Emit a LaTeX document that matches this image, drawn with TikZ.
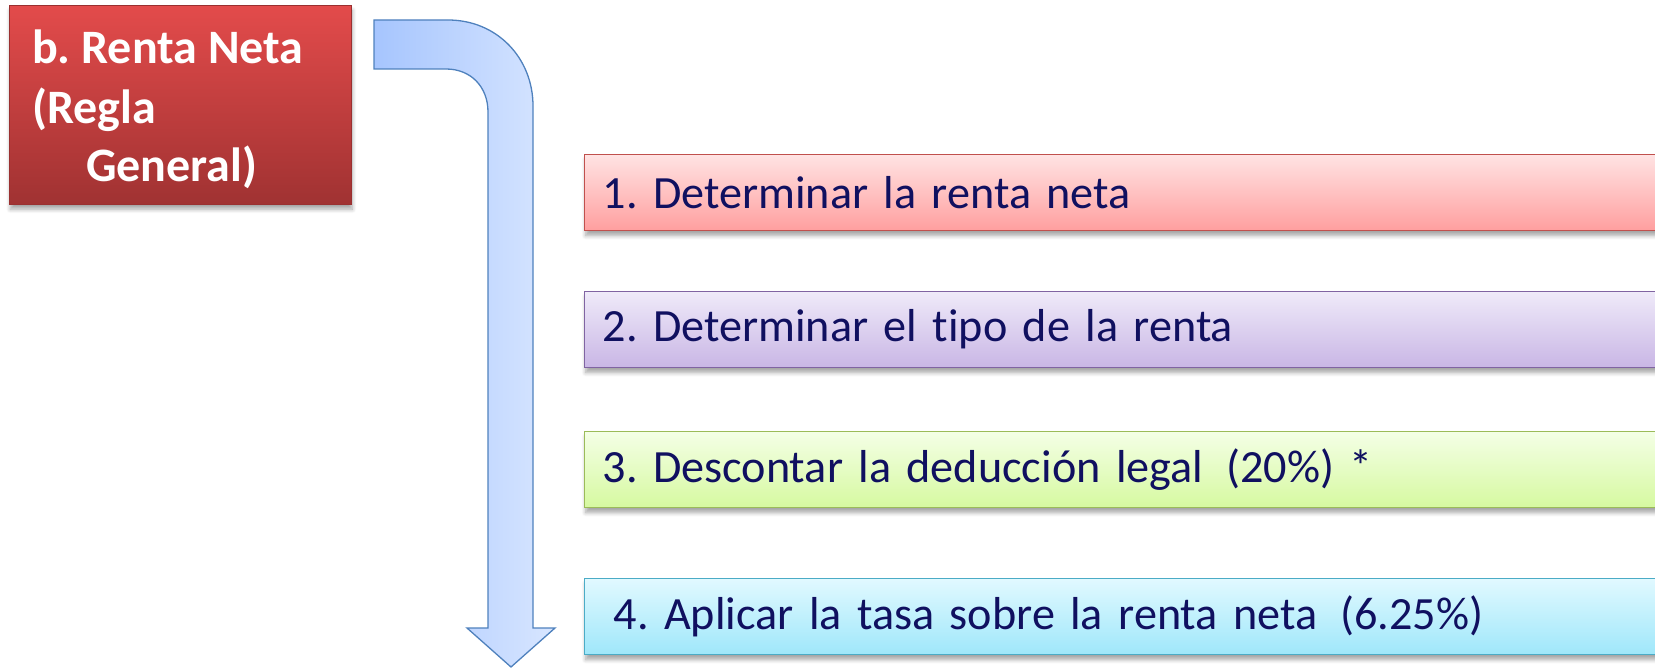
\documentclass[tikz,border=0pt]{standalone}
\usepackage{fontspec}
\setmainfont{Carlito}[Ligatures=NoCommon]
\usetikzlibrary{shadows.blur}
\definecolor{navytext}{RGB}{16,16,96}
\definecolor{redtop}{HTML}{E34B4B}
\definecolor{redbot}{HTML}{A03232}
\definecolor{redline}{HTML}{9A3030}
\definecolor{arrL}{HTML}{A6C5FE}
\definecolor{arrR}{HTML}{D8E6FF}
\definecolor{arrline}{HTML}{4F81BD}
\definecolor{oneT}{HTML}{FFE3E3}\definecolor{oneB}{HTML}{FF9F9F}\definecolor{oneL}{HTML}{C0504D}
\definecolor{twoT}{HTML}{EFEAF9}\definecolor{twoB}{HTML}{C9B6E5}\definecolor{twoL}{HTML}{8064A2}
\definecolor{thrT}{HTML}{F4FFE6}\definecolor{thrB}{HTML}{D6F9A0}\definecolor{thrL}{HTML}{9BBB59}
\definecolor{fouT}{HTML}{E1F9FF}\definecolor{fouB}{HTML}{9FE7FA}\definecolor{fouL}{HTML}{4BACC6}
\newcommand\mystepfont{\fontsize{46.2}{56}\selectfont\spaceskip=0.18em\relax}
\newcommand\dblsp{\hspace{0.5em}}
\begin{document}
\frenchspacing
\begin{tikzpicture}[x=1pt,y=-1pt,
  softshadow/.style={blur shadow={shadow xshift=1pt, shadow yshift=-5pt, shadow blur steps=6, shadow opacity=35, shadow blur radius=4pt}},
  stepbox/.style={draw, line width=1.3pt, anchor=north west, minimum width=1120pt,
    minimum height=76pt, inner xsep=18pt, inner ysep=0pt, text width=1084pt, align=left,
    font=\mystepfont, text=navytext, softshadow},
  titletext/.style={anchor=base west, inner sep=0pt, text=white, font=\fontsize{48}{56}\selectfont\bfseries},
]
\useasboundingbox (0,0) rectangle (1655,669);
% title box
\node[draw=redline, line width=0.6pt, top color=redtop, bottom color=redbot, anchor=north west,
  minimum width=342pt, minimum height=199pt, inner sep=0pt, softshadow] (title) at (9,5) {};
\node[titletext] (t1) at (32,64) {b. Renta Neta};
\node[titletext] (t2) at (32,123) {(Regla};
\node[titletext] (t3) at (86,181) {General)};
% bent arrow
\draw[arrline, line width=1.3pt, left color=arrL, right color=arrR, line join=miter]
  (374,20) -- (448,20) .. controls (497,20) and (533,58) .. (533,106)
  -- (533,628) -- (555,628) -- (511,667) -- (467,628) -- (488,628)
  -- (488,112) .. controls (488,87) and (471,69) .. (446,69) -- (374,69) -- cycle;
% step boxes
\node[stepbox, draw=oneL, top color=oneT, bottom color=oneB] (s1) at (584,154) {1. Determinar la renta neta};
\node[stepbox, draw=twoL, top color=twoT, bottom color=twoB] (s2) at (584,291) {2. Determinar el tipo de la renta};
\node[stepbox, draw=thrL, top color=thrT, bottom color=thrB] (s3) at (584,431) {3. Descontar la deducción legal\dblsp(20\%) *};
\node[stepbox, draw=fouL, top color=fouT, bottom color=fouB] (s4) at (584,578) {\hspace*{11pt}4. Aplicar la tasa sobre la renta neta\dblsp(6.25\%)};
\end{tikzpicture}
\end{document}
